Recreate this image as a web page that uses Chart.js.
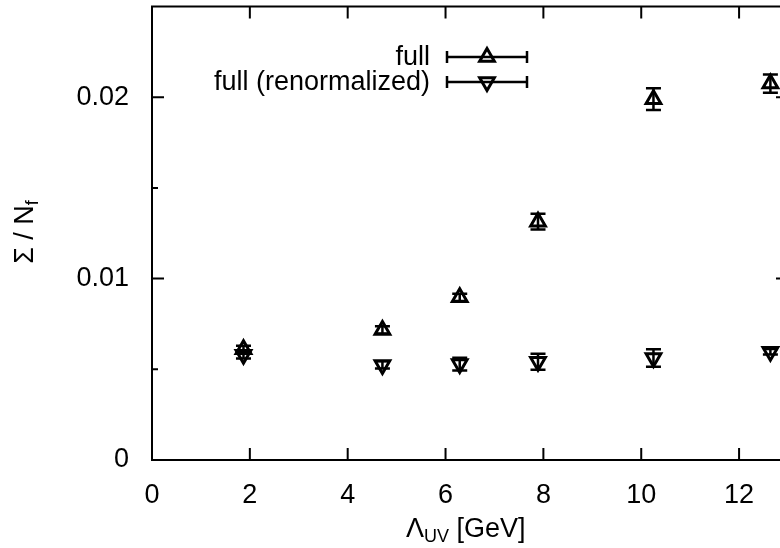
<!DOCTYPE html>
<html>
<head>
<meta charset="utf-8">
<script src="https://cdn.jsdelivr.net/npm/chart.js@4.4.1/dist/chart.umd.min.js"></script>
<style>
  html, body { margin: 0; padding: 0; background: #fff; overflow: hidden; }
  #wrap { width: 800px; height: 553px; margin-top: -5px; }
  canvas { display: block; }
</style>
</head>
<body>
<div id="wrap"><canvas id="mycanvas" width="800" height="553"></canvas></div>
<script>
// Lambda_UV in GeV
var lambdaUV = [1.87, 4.71, 6.29, 7.89, 10.25, 12.64];

// Sigma / N_f, "full"
var fullVals = [0.0061, 0.00717, 0.00897, 0.01314, 0.01989, 0.02075];
var fullErr  = [0.0002, 0.0002, 0.0002, 0.00044, 0.0006, 0.0005];

// Sigma / N_f, "full (renormalized)"
var renVals = [0.0058, 0.00524, 0.00529, 0.00542, 0.00562, 0.00597];
var renErr  = [0.0002, 0.0002, 0.00035, 0.00044, 0.00048, 0.00015];

var xTicks = [0, 2, 4, 6, 8, 10, 12];
var yTicks = [0, 0.01, 0.02];
var yTickLabels = ["0", "0.01", "0.02"];
var yMinor = [0.005, 0.015];

var FONT = '"Liberation Sans", Arial, sans-serif';
Chart.defaults.font.family = FONT;
Chart.defaults.font.size = 27;
Chart.defaults.color = "#000";

// canvas is shifted up by this many px
var SHIFT = 5;

function pts(xs, ys) {
	var out = [];
	for (var i in xs) out.push({x: xs[i], y: ys[i]});
	return out;
}

// error bars with caps, drawn through the markers
var errorBars = {
	id: "errorBars",
	afterDatasetsDraw: function(chart) {
		var ctx = chart.ctx, xs = chart.scales.x, ys = chart.scales.y;
		ctx.save();
		ctx.strokeStyle = "#000";
		ctx.lineWidth = 2.5;
		chart.data.datasets.forEach(function(ds) {
			ds.data.forEach(function(p, i) {
				var px = xs.getPixelForValue(p.x);
				var y1 = ys.getPixelForValue(p.y - ds.err[i]);
				var y2 = ys.getPixelForValue(p.y + ds.err[i]);
				ctx.beginPath();
				ctx.moveTo(px, y1); ctx.lineTo(px, y2);
				ctx.moveTo(px - 7.5, y1); ctx.lineTo(px + 7.5, y1);
				ctx.moveTo(px - 7.5, y2); ctx.lineTo(px + 7.5, y2);
				ctx.stroke();
			});
		});
		ctx.restore();
	}
};

// gnuplot style frame, inward ticks, legend and axis titles
var frame = {
	id: "frame",
	afterDraw: function(chart) {
		var ctx = chart.ctx, a = chart.chartArea;
		var xs = chart.scales.x, ys = chart.scales.y;
		ctx.save();
		ctx.strokeStyle = "#000";
		ctx.lineWidth = 2;
		ctx.beginPath();
		ctx.rect(a.left, a.top, a.right - a.left, a.bottom - a.top);
		xTicks.forEach(function(v) {
			var px = xs.getPixelForValue(v);
			ctx.moveTo(px, a.bottom); ctx.lineTo(px, a.bottom - 12);
			ctx.moveTo(px, a.top); ctx.lineTo(px, a.top + 12);
		});
		yTicks.forEach(function(v) {
			var py = ys.getPixelForValue(v);
			ctx.moveTo(a.left, py); ctx.lineTo(a.left + 12, py);
			ctx.moveTo(a.right, py); ctx.lineTo(a.right - 12, py);
		});
		yMinor.forEach(function(v) {
			var py = ys.getPixelForValue(v);
			ctx.moveTo(a.left, py); ctx.lineTo(a.left + 6, py);
			ctx.moveTo(a.right, py); ctx.lineTo(a.right - 6, py);
		});
		ctx.stroke();

		// legend
		var rows = [
			{label: "full", y: 57 + SHIFT, rot: 0},
			{label: "full (renormalized)", y: 82 + SHIFT, rot: 180}
		];
		ctx.font = "27px " + FONT;
		ctx.fillStyle = "#000";
		ctx.textAlign = "right";
		ctx.textBaseline = "alphabetic";
		rows.forEach(function(r) {
			ctx.fillText(r.label, 430, r.y + 8);
			ctx.lineWidth = 2.5;
			ctx.beginPath();
			ctx.moveTo(447, r.y); ctx.lineTo(527, r.y);
			ctx.moveTo(447, r.y - 6); ctx.lineTo(447, r.y + 6);
			ctx.moveTo(527, r.y - 6); ctx.lineTo(527, r.y + 6);
			ctx.stroke();
			ctx.fillStyle = "rgba(0,0,0,0)";
			ctx.lineWidth = 3;
			Chart.helpers.drawPoint(ctx, {pointStyle: "triangle", radius: 8.5, rotation: r.rot, borderWidth: 3}, 487, r.y);
			ctx.fillStyle = "#000";
		});

		// x title: Lambda_UV [GeV]
		var xt = 406, yb = 537 + SHIFT;
		ctx.textAlign = "left";
		ctx.font = "27px " + FONT;
		ctx.fillText("\u039B", xt, yb);
		xt += ctx.measureText("\u039B").width;
		ctx.font = "18px " + FONT;
		ctx.fillText("UV", xt, yb + 5);
		xt += ctx.measureText("UV").width;
		ctx.font = "27px " + FONT;
		ctx.fillText(" [GeV]", xt, yb);

		// y title: Sigma / N_f
		ctx.save();
		ctx.translate(33, 232 + SHIFT);
		ctx.rotate(-Math.PI / 2);
		ctx.font = "27px " + FONT;
		var main = "\u03A3 / N", w1 = ctx.measureText(main).width;
		ctx.font = "18px " + FONT;
		var w2 = ctx.measureText("f").width;
		var sx = -(w1 + w2) / 2;
		ctx.font = "27px " + FONT;
		ctx.fillText(main, sx, 0);
		ctx.font = "18px " + FONT;
		ctx.fillText("f", sx + w1, 5);
		ctx.restore();

		ctx.restore();
	}
};

var chartdata = {
	datasets: [
		{
			label: "full",
			data: pts(lambdaUV, fullVals),
			err: fullErr,
			showLine: false,
			pointStyle: "triangle",
			rotation: 0,
			pointRadius: 8.5,
			pointBorderWidth: 3,
			borderColor: "#000",
			backgroundColor: "rgba(0,0,0,0)"
		},
		{
			label: "full (renormalized)",
			data: pts(lambdaUV, renVals),
			err: renErr,
			showLine: false,
			pointStyle: "triangle",
			rotation: 180,
			pointRadius: 8.5,
			pointBorderWidth: 3,
			borderColor: "#000",
			backgroundColor: "rgba(0,0,0,0)"
		}
	]
};

var ctx = document.getElementById("mycanvas");

var graph = new Chart(ctx, {
	type: "scatter",
	data: chartdata,
	plugins: [errorBars, frame],
	options: {
		responsive: false,
		animation: false,
		events: [],
		layout: { padding: { top: 2, right: 12, left: 0, bottom: 0 } },
		plugins: { legend: { display: false }, tooltip: { enabled: false } },
		scales: {
			x: {
				type: "linear",
				min: 0,
				max: 13,
				grid: { display: false },
				border: { display: false },
				afterBuildTicks: function(axis) {
					axis.ticks = xTicks.map(function(v) { return {value: v}; });
				},
				afterFit: function(axis) {
					axis.height = 88;
					axis.paddingLeft = 0;
					axis.paddingRight = 0;
				},
				ticks: {
					padding: 11,
					maxRotation: 0,
					callback: function(v) { return String(v); }
				}
			},
			y: {
				type: "linear",
				min: 0,
				max: 0.025,
				grid: { display: false },
				border: { display: false },
				afterBuildTicks: function(axis) {
					axis.ticks = yTicks.map(function(v) { return {value: v}; });
				},
				afterFit: function(axis) {
					axis.width = 152;
					axis.paddingTop = 0;
					axis.paddingBottom = 0;
				},
				ticks: {
					padding: 15,
					callback: function(v) { return yTickLabels[yTicks.indexOf(v)]; }
				}
			}
		}
	}
});
</script>
</body>
</html>
